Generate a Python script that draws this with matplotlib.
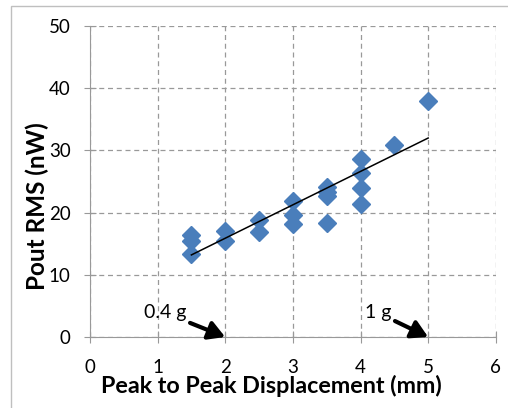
import matplotlib
matplotlib.use("Agg")
import matplotlib.pyplot as plt
from matplotlib.patches import Rectangle

# displacement (mm) vs Pout RMS (nW)
disp = [1.5, 1.5, 1.5, 2, 2, 2.5, 2.5, 3, 3, 3, 3.5, 3.5, 3.5, 3.5,
        4, 4, 4, 4, 4.5, 5]
pout = [16.4, 15.5, 13.4, 17.0, 15.5, 18.8, 16.9, 21.8, 19.7, 18.1,
        24.1, 23.4, 22.6, 18.3, 28.6, 26.4, 24.0, 21.4, 30.9, 38.0]

# trend line end points
trend_x = [1.5, 5]
trend_y = [13.2, 32.0]

xticks = [0, 1, 2, 3, 4, 5, 6]
yticks = [0, 10, 20, 30, 40, 50]

plt.rcParams['font.family'] = ['Lato', 'DejaVu Sans']

fig = plt.figure(figsize=(5.08, 4.08), dpi=100)
ax = fig.add_axes([0.177, 0.174, 0.799, 0.762])

# chart frame
fig.patches.append(Rectangle((11/508, -0.1), 1.2, 1 - 6/408 + 0.1,
                             transform=fig.transFigure, fill=False,
                             ec='#bfbfbf', lw=1.0))

ax.plot(disp, pout, 'D', color='#4a7ebb', ms=9.5, mec='#4a7ebb', zorder=3)
ax.plot(trend_x, trend_y, color='black', lw=1.1, zorder=4)

ax.set_xlim(0, 6)
ax.set_ylim(0, 50)
ax.set_xticks(xticks)
ax.set_yticks(yticks)
ax.grid(True, ls=(0, (4, 3)), color='#999999', lw=0.9)
ax.set_axisbelow(True)
for s in ['top', 'right']:
    ax.spines[s].set_visible(False)
for s in ['left', 'bottom']:
    ax.spines[s].set_color('#999999')
ax.tick_params(colors='#999999', labelcolor='black', labelsize=13.5,
               direction='inout', length=8)
ax.tick_params(axis='y', pad=10)
ax.tick_params(axis='x', pad=12)
ax.set_xlabel('Peak to Peak Displacement (mm)', fontsize=16.8, fontweight='bold')
ax.set_ylabel('Pout RMS (nW)', fontsize=17.5, fontweight='bold')
ax.xaxis.set_label_coords(0.447, -0.122)
ax.yaxis.set_label_coords(-0.1, 0.42)

arrow = dict(arrowstyle='-|>,head_length=0.7,head_width=0.4', color='black',
             lw=3, mutation_scale=14, shrinkA=1, shrinkB=0)
ax.annotate('0.4 g', xy=(2, 0), xytext=(1.42, 3.9), ha='right', va='center',
            fontsize=14, arrowprops=arrow)
ax.annotate('1 g', xy=(5, 0), xytext=(4.45, 3.9), ha='right', va='center',
            fontsize=14, arrowprops=arrow)

fig.savefig('out.png', dpi=100)
